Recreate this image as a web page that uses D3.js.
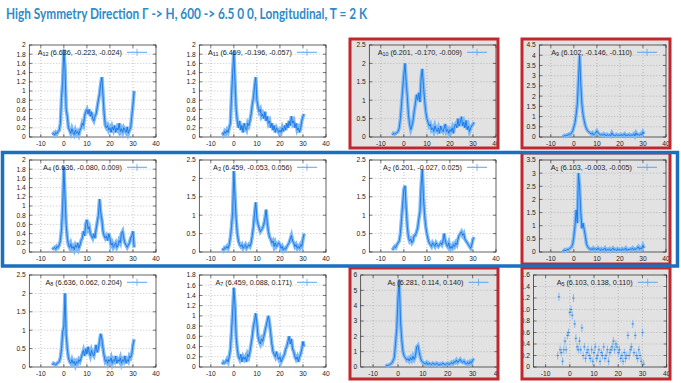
<!DOCTYPE html>
<html>
<head>
<meta charset="utf-8">
<script src="https://cdn.jsdelivr.net/npm/d3@7"></script>
<style>
  body { margin: 0; background: #fff; }
  svg { display: block; }
</style>
</head>
<body>
<div id="chart"></div>
<script>
var width = 681, height = 383;

// energy grid shared by all panels
var xs = [-5,-4.5,-4,-3.5,-3,-2.5,-2,-1.5,-1,-0.5,
  0,0.5,1,1.5,2,2.5,3,3.5,4,4.5,
  5,5.5,6,6.5,7,7.5,8,8.5,9,9.5,
  10,10.5,11,11.5,12,12.5,13,13.5,14,14.5,
  15,15.5,16,16.5,17,17.5,18,18.5,19,19.5,
  20,20.5,21,21.5,22,22.5,23,23.5,24,24.5,
  25,25.5,26,26.5,27,27.5,28,28.5,29,29.5,
  30,30.5];

var a12 = [0.05,0.08,0.04,0.1,0.07,0.12,0.15,0.3,0.85,1.2,
  1.9,1.5,0.6,0.45,0.2,0.15,0.08,0.18,0.1,0.05,
  0.15,0.08,0.12,0.05,0.15,0.2,0.3,0.25,0.45,0.55,
  0.6,0.5,0.6,0.45,0.55,0.4,0.35,0.45,0.5,0.65,
  0.8,0.95,1.15,1.3,0.9,0.5,0.25,0.2,0.25,0.15,
  0.2,0.1,0.22,0.15,0.25,0.1,0.2,0.15,0.3,0.12,
  0.18,0.1,0.2,0.15,0.1,0.22,0.08,0.15,0.2,0.45,
  0.7,1.0];
var a11 = [0.1,0.05,0.12,0.08,0.15,0.1,0.2,0.3,0.9,1.4,
  1.85,1.2,0.6,0.35,0.2,0.35,0.15,0.25,0.1,0.3,
  0.2,0.15,0.3,0.25,0.35,0.5,0.7,0.85,1.1,1.3,
  0.8,0.65,0.55,0.6,0.45,0.5,0.4,0.55,0.35,0.45,
  0.3,0.35,0.2,0.3,0.15,0.25,0.1,0.2,0.15,0.1,
  0.15,0.1,0.2,0.12,0.25,0.15,0.3,0.2,0.35,0.25,
  0.45,0.3,0.35,0.2,0.3,0.15,0.2,0.1,0.2,0.35,
  0.45,0.5];
var a10 = [0.05,0.1,0.08,0.1,0.12,0.15,0.25,0.5,0.9,1.3,
  1.7,2.0,1.5,1.1,0.6,0.35,0.2,0.3,0.45,0.7,
  0.9,1.15,1.0,1.2,0.95,1.6,1.85,1.4,1.0,0.7,
  0.5,0.4,0.3,0.35,0.2,0.25,0.15,0.3,0.2,0.15,
  0.25,0.1,0.3,0.2,0.15,0.25,0.35,0.15,0.2,0.1,
  0.2,0.15,0.25,0.1,0.3,0.35,0.25,0.5,0.3,0.4,
  0.55,0.3,0.4,0.25,0.45,0.2,0.3,0.15,0.25,0.3,
  0.35,0.4];
var a9 = [0.05,0.03,0.08,0.05,0.1,0.08,0.15,0.12,0.2,0.3,
  0.5,0.7,1.1,1.6,2.8,4.0,2.6,1.6,1.1,0.8,
  0.55,0.4,0.3,0.25,0.2,0.15,0.2,0.1,0.15,0.2,
  0.3,0.2,0.15,0.1,0.12,0.08,0.15,0.1,0.05,0.12,
  0.08,0.1,0.05,0.2,0.1,0.08,0.05,0.12,0.08,0.1,
  0.05,0.12,0.08,0.1,0.15,0.05,0.1,0.08,0.12,0.05,
  0.1,0.08,0.15,0.05,0.2,0.1,0.12,0.08,0.15,0.1,
  0.25,0.15];
var a4 = [0.05,0.08,0.1,0.06,0.12,0.1,0.15,0.25,0.5,1.0,
  1.85,1.2,0.6,0.3,0.15,0.1,0.18,0.08,0.12,0.05,
  0.15,0.1,0.2,0.08,0.15,0.25,0.3,0.45,0.35,0.6,
  0.7,0.5,0.55,0.4,0.35,0.3,0.4,0.3,0.5,0.65,
  0.8,1.15,0.85,0.7,0.45,0.35,0.3,0.35,0.25,0.4,
  0.3,0.15,0.2,0.1,0.15,0.2,0.1,0.15,0.25,0.2,
  0.4,0.45,0.3,0.2,0.15,0.1,0.15,0.2,0.3,0.35,
  0.45,0.1];
var a3 = [0.1,0.05,0.12,0.1,0.15,0.1,0.2,0.4,0.7,1.1,
  2.2,1.5,0.9,0.5,0.3,0.2,0.15,0.2,0.1,0.15,
  0.2,0.1,0.15,0.2,0.15,0.25,0.45,0.7,1.05,1.35,
  0.9,0.75,0.65,0.55,0.6,0.65,0.75,0.9,1.15,0.8,
  0.55,0.4,0.35,0.25,0.3,0.15,0.25,0.15,0.2,0.25,
  0.2,0.1,0.15,0.05,0.1,0.08,0.15,0.2,0.25,0.35,
  0.45,0.3,0.25,0.15,0.2,0.1,0.15,0.1,0.2,0.15,
  0.35,0.5];
var a2 = [0.05,0.1,0.15,0.12,0.2,0.25,0.3,0.5,0.9,1.3,
  1.7,1.8,1.2,0.7,0.4,0.3,0.35,0.25,0.3,0.45,
  0.45,0.55,0.65,0.9,1.1,1.8,2.25,1.5,1.0,0.7,
  0.5,0.35,0.25,0.2,0.15,0.25,0.2,0.15,0.25,0.2,
  0.15,0.2,0.25,0.2,0.3,0.5,0.3,0.2,0.15,0.25,
  0.1,0.15,0.1,0.2,0.15,0.25,0.2,0.35,0.45,0.5,
  0.55,0.45,0.5,0.35,0.3,0.25,0.2,0.15,0.1,0.2,
  0.35,0.4];
var a1 = [0.05,0.03,0.08,0.05,0.1,0.08,0.12,0.15,0.2,0.3,
  0.6,1.0,1.6,1.1,3.0,2.5,1.5,0.9,1.1,0.85,
  0.6,0.3,0.2,0.15,0.1,0.12,0.08,0.15,0.1,0.12,
  0.08,0.15,0.1,0.05,0.12,0.08,0.1,0.15,0.05,0.1,
  0.08,0.12,0.05,0.1,0.15,0.08,0.1,0.05,0.12,0.08,
  0.1,0.05,0.12,0.08,0.1,0.15,0.05,0.1,0.08,0.12,
  0.1,0.15,0.08,0.12,0.1,0.15,0.2,0.1,0.15,0.12,
  0.25,0.15];
var a8 = [0.05,0.1,0.08,0.05,0.1,0.12,0.15,0.25,0.5,0.95,
  1.1,2.0,0.9,0.5,0.25,0.15,0.1,0.2,0.1,0.15,
  0.05,0.15,0.1,0.2,0.15,0.25,0.35,0.45,0.3,0.5,
  0.35,0.55,0.4,0.3,0.45,0.35,0.3,0.45,0.6,0.4,
  0.5,0.7,0.9,0.75,0.5,0.3,0.15,0.2,0.1,0.2,
  0.15,0.25,0.1,0.2,0.15,0.3,0.1,0.2,0.15,0.25,
  0.1,0.2,0.15,0.3,0.1,0.2,0.15,0.3,0.25,0.35,
  0.6,0.75];
var a7 = [0.05,0.1,0.08,0.1,0.15,0.1,0.2,0.35,0.7,1.1,
  1.55,1.2,0.6,0.35,0.2,0.15,0.25,0.1,0.2,0.15,
  0.2,0.1,0.25,0.2,0.3,0.45,0.6,0.8,0.9,1.05,
  0.85,0.6,0.5,0.45,0.55,0.5,0.6,0.7,0.8,0.9,
  1.0,0.85,0.65,0.45,0.3,0.25,0.2,0.3,0.2,0.15,
  0.2,0.1,0.15,0.2,0.25,0.35,0.4,0.5,0.6,0.45,
  0.55,0.35,0.3,0.2,0.15,0.2,0.1,0.2,0.25,0.35,
  0.5,0.4];
var a6 = [0.05,0.1,0.08,0.15,0.2,0.25,0.4,0.6,1.5,2.5,
  4.5,5.7,3.0,1.8,1.0,0.7,0.6,0.45,0.55,0.4,
  0.6,0.45,0.7,0.5,0.7,1.3,1.4,1.0,0.6,0.4,
  0.3,0.25,0.2,0.3,0.15,0.25,0.2,0.15,0.25,0.2,
  0.15,0.25,0.2,0.1,0.2,0.15,0.25,0.2,0.15,0.2,
  0.25,0.15,0.2,0.3,0.2,0.35,0.3,0.45,0.3,0.4,
  0.5,0.35,0.3,0.4,0.25,0.2,0.3,0.2,0.35,0.25,
  0.45,0.55];
var a5 = [0.2,1.22,0.3,0.25,0.1,0.3,0.45,0.3,0.55,0.6,
  0.95,1.0,0.9,1.2,0.75,0.5,0.35,0.3,0.45,0.3,
  0.68,0.2,0.35,0.15,0.25,0.3,0.2,0.15,0.3,0.1,
  0.25,0.35,0.15,0.2,0.3,0.1,0.25,0.2,0.35,0.15,
  0.2,0.3,0.1,0.25,0.3,0.35,0.45,0.3,0.4,0.35,
  0.25,0.3,0.15,0.2,0.1,0.25,0.15,0.2,0.55,0.2,
  0.3,0.35,0.75,0.25,0.55,0.2,0.15,0.3,0.2,0.1,
  0.6,0.05];

var names = ["12","11","10","9","4","3","2","1","8","7","6","5"];
var coords = ["(6.636, -0.223, -0.024)", "(6.459, -0.196, -0.057)", "(6.201, -0.170, -0.009)", "(6.102, -0.146, -0.110)",
  "(6.636, -0.080, 0.009)", "(6.459, -0.053, 0.056)", "(6.201, -0.027, 0.025)", "(6.103, -0.003, -0.005)",
  "(6.636, 0.062, 0.204)", "(6.459, 0.088, 0.171)", "(6.281, 0.114, 0.140)", "(6.103, 0.138, 0.110)"];
var ymaxs = [2, 2, 2.5, 4.5, 2, 2.5, 2.5, 3.5, 2.5, 1.8, 6, 1.6];
var ysteps = [0.2, 0.2, 0.5, 0.5, 0.2, 0.5, 0.5, 0.5, 0.5, 0.2, 1, 0.2];
var xticks = [-10, 0, 10, 20, 30, 40];
var series = [a12, a11, a10, a9, a4, a3, a2, a1, a8, a7, a6, a5];
var boxed = [false, false, true, true, false, false, false, true, false, false, true, true];

var svg = d3.select("#chart")
  .append("svg")
    .attr("width", width)
    .attr("height", height)
    .style("background-color", "#fff");

svg.append("text")
  .attr("x", 6)
  .attr("y", 19)
  .attr("font-family", "Lato, 'Open Sans', sans-serif")
  .attr("font-weight", "bold")
  .attr("font-size", 15)
  .attr("fill", "#2e8bc9")
  .attr("textLength", 361)
  .attr("lengthAdjust", "spacingAndGlyphs")
  .text("High Symmetry Direction \u0393 -> H, 600 -> 6.5 0 0, Longitudinal, T = 2 K");

var defs = svg.append("defs");
var font = "'Liberation Sans', Arial, sans-serif";

series.forEach(function(vals, i) {
  var col = i % 4, row = Math.floor(i / 4);
  var ox = col * 170, oy = 35 + row * 115;
  var left = ox + 29.3, right = ox + 156;
  if (i === 10) { left = ox + 20.7; right = ox + 157.5; }
  if (i === 11) { left = ox + 23.5; right = ox + 156.7; }
  var top = oy + 10, bottom = oy + 102;

  var x = d3.scaleLinear().domain([-15, 40]).range([left, right]);
  var y = d3.scaleLinear().domain([0, ymaxs[i]]).range([bottom, top]);
  var yt = d3.range(0, ymaxs[i] + ysteps[i] / 2, ysteps[i]);

  var bx = ox + (col === 3 ? 12 : 10), by = oy + (row === 0 ? 4 : 3);
  var bw = 148, bh = row === 0 ? 109 : 111;

  var g = svg.append("g");
  if (boxed[i]) {
    defs.append("clipPath").attr("id", "clip" + i)
      .append("rect").attr("x", bx).attr("y", by).attr("width", bw).attr("height", bh);
    g.attr("clip-path", "url(#clip" + i + ")");
    g.append("rect")
      .attr("x", bx).attr("y", by).attr("width", bw).attr("height", bh)
      .attr("fill", "#e2e2e2");
  }

  // grid
  g.append("g").selectAll("line.gy")
    .data(yt.slice(1, -1))
    .enter().append("line")
      .attr("x1", left).attr("x2", right)
      .attr("y1", function(d) { return y(d); }).attr("y2", function(d) { return y(d); })
      .attr("stroke", "#9a9a9a").attr("stroke-width", 0.6).attr("stroke-dasharray", "1,2");
  g.append("g").selectAll("line.gx")
    .data(xticks.slice(0, -1))
    .enter().append("line")
      .attr("y1", top).attr("y2", bottom)
      .attr("x1", function(d) { return x(d); }).attr("x2", function(d) { return x(d); })
      .attr("stroke", "#9a9a9a").attr("stroke-width", 0.6).attr("stroke-dasharray", "1,2");

  // tick marks on all sides
  var tk = g.append("g").attr("stroke", "#222").attr("stroke-width", 0.6);
  yt.forEach(function(d) {
    tk.append("line").attr("x1", left).attr("x2", left + 3).attr("y1", y(d)).attr("y2", y(d));
    tk.append("line").attr("x1", right - 3).attr("x2", right).attr("y1", y(d)).attr("y2", y(d));
  });
  xticks.forEach(function(d) {
    tk.append("line").attr("x1", x(d)).attr("x2", x(d)).attr("y1", bottom).attr("y2", bottom - 3);
    tk.append("line").attr("x1", x(d)).attr("x2", x(d)).attr("y1", top).attr("y2", top + 3);
  });

  g.append("rect")
    .attr("x", left).attr("y", top)
    .attr("width", right - left).attr("height", bottom - top)
    .attr("fill", "none").attr("stroke", "#222").attr("stroke-width", 0.7);

  // labels
  g.append("g").selectAll("text")
    .data(yt)
    .enter().append("text")
      .attr("x", left - 3.5)
      .attr("y", function(d) { return y(d) + 2.4; })
      .attr("text-anchor", "end")
      .attr("font-family", font).attr("font-size", 6.7).attr("fill", "#222")
      .text(function(d) { return i === 11 && d > 0 ? d.toFixed(1) : String(+d.toFixed(1)); });
  g.append("g").selectAll("text")
    .data(xticks)
    .enter().append("text")
      .attr("x", function(d) { return x(d); })
      .attr("y", bottom + 8.5)
      .attr("text-anchor", "middle")
      .attr("font-family", font).attr("font-size", 6.7).attr("fill", "#222")
      .text(function(d) { return d; });

  var pts = xs.map(function(d, j) { return [d, vals[j]]; });
  var line = d3.line()
    .x(function(d) { return x(d[0]); })
    .y(function(d) { return y(d[1]); });

  if (i === 11) {
    var pg = g.append("g");
    pg.selectAll("line.eb")
      .data(pts)
      .enter().append("line")
        .attr("x1", function(d) { return x(d[0]); }).attr("x2", function(d) { return x(d[0]); })
        .attr("y1", function(d) { return y(d[1]) - 4; }).attr("y2", function(d) { return y(d[1]) + 4; })
        .attr("stroke", "#6aaef2").attr("stroke-width", 0.8);
    pg.selectAll("line.pt")
      .data(pts)
      .enter().append("line")
        .attr("x1", function(d) { return x(d[0]) - 1.2; }).attr("x2", function(d) { return x(d[0]) + 1.2; })
        .attr("y1", function(d) { return y(d[1]); }).attr("y2", function(d) { return y(d[1]); })
        .attr("stroke", "#1a74e2").attr("stroke-width", 0.8);
  } else {
    // error spread drawn as a wide pale stroke under the data line
    g.append("path")
      .attr("d", line(pts))
      .attr("fill", "none")
      .attr("stroke", "#7fbaf5")
      .attr("stroke-width", 3.6)
      .attr("stroke-linejoin", "miter");
    g.append("path")
      .attr("d", line(pts))
      .attr("fill", "none")
      .attr("stroke", "#1574e6")
      .attr("stroke-width", 0.9);
  }

  // key
  var ky = top + 7.3;
  var kt = g.append("text")
    .attr("x", right - 34)
    .attr("y", ky + 2.4)
    .attr("text-anchor", "end")
    .attr("font-family", font).attr("font-size", 7.2).attr("fill", "#222");
  kt.append("tspan").text("A");
  kt.append("tspan").attr("font-size", 5.4).attr("dy", 1.6).text(names[i]);
  kt.append("tspan").attr("dy", -1.6).text(" " + coords[i]);
  g.append("line")
    .attr("x1", right - 29).attr("x2", right - 9)
    .attr("y1", ky).attr("y2", ky)
    .attr("stroke", "#5aa6f2").attr("stroke-width", 1);
  g.append("line")
    .attr("x1", right - 19).attr("x2", right - 19)
    .attr("y1", ky - 3.5).attr("y2", ky + 3.5)
    .attr("stroke", "#5aa6f2").attr("stroke-width", 0.8);

  if (boxed[i]) {
    svg.append("rect")
      .attr("x", bx).attr("y", by).attr("width", bw).attr("height", bh)
      .attr("fill", "none").attr("stroke", "#c1272d").attr("stroke-width", 3);
  }
});

svg.append("rect")
  .attr("x", 2.5).attr("y", 152.5)
  .attr("width", 675).attr("height", 113.5)
  .attr("fill", "none")
  .attr("stroke", "#1a6fbf")
  .attr("stroke-width", 3.5);
</script>
</body>
</html>
